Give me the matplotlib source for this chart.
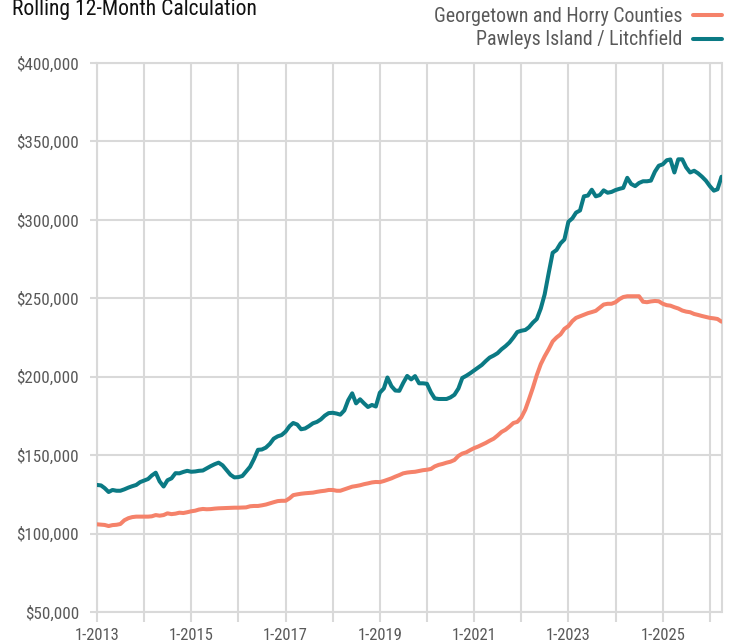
import matplotlib
matplotlib.use("Agg")
import matplotlib.pyplot as plt
import matplotlib.font_manager as fm
from matplotlib.ticker import FuncFormatter
import pandas as pd

# ---------------- data ----------------
start_month = "2013-01-01"

pawleys = [
    131.0, 130.7, 129.0, 126.5, 127.8, 127.3, 127.3, 128.2, 129.3, 130.2, 131.0, 132.8,
    133.8, 134.8, 137.0, 138.8, 133.3, 130.0, 134.0, 135.2, 138.5, 138.4, 139.3, 140.0,
    139.4, 139.6, 140.0, 140.2, 141.6, 143.0, 144.2, 145.2, 143.5, 140.5, 137.5, 135.8,
    136.0, 136.7, 139.5, 142.6, 147.5, 153.4, 153.6, 154.8, 157.2, 160.5, 162.0, 162.8,
    165.0, 168.5, 170.5, 169.5, 166.5, 167.0, 168.5, 170.3, 171.2, 172.8, 175.2, 176.8,
    177.0, 176.5, 175.8, 178.5, 185.0, 189.4, 183.0, 185.6, 183.0, 180.7, 182.0, 181.0,
    189.8, 192.5, 199.5, 194.0, 191.2, 191.0, 196.0, 200.5, 198.3, 200.4, 195.8, 195.8,
    195.5, 190.0, 186.2, 185.8, 185.8, 185.8, 186.8, 188.5, 192.5, 199.2, 200.6, 202.2,
    204.0, 205.8, 207.5, 210.0, 212.2, 213.5, 215.0, 217.5, 219.5, 221.8, 225.0, 228.5,
    229.3, 229.8, 231.5, 234.5, 236.8, 243.5, 252.5, 266.0, 279.0, 280.8, 285.0, 287.5,
    298.8, 301.0, 304.6, 306.0, 315.0, 315.5, 319.2, 315.0, 315.8, 318.8, 317.3, 317.8,
    319.0, 319.8, 320.4, 326.8, 322.9, 321.5, 323.5, 324.6, 324.6, 325.0, 330.7, 334.5,
    335.4, 338.0, 338.5, 330.2, 338.6, 338.6, 333.5, 330.2, 331.3, 329.7, 327.5, 325.0,
    321.5, 318.6, 319.5, 327.5,
]

georgetown = [
    105.9, 105.7, 105.5, 104.8, 105.4, 105.6, 106.1, 108.5, 109.8, 110.5, 110.8, 110.8,
    110.8, 110.8, 111.0, 111.8, 111.4, 111.8, 112.9, 112.4, 112.7, 113.3, 113.1, 113.6,
    114.2, 114.6, 115.3, 115.7, 115.5, 115.6, 115.9, 116.1, 116.2, 116.3, 116.4, 116.5,
    116.5, 116.6, 116.7, 117.4, 117.6, 117.6, 118.0, 118.5, 119.3, 120.0, 120.7, 120.9,
    120.9, 122.5, 124.5, 125.0, 125.4, 125.7, 125.9, 126.1, 126.6, 127.0, 127.3, 127.8,
    127.8, 127.3, 127.3, 128.2, 129.0, 129.9, 130.3, 130.8, 131.5, 132.0, 132.6, 132.9,
    132.8, 133.5, 134.3, 135.2, 136.3, 137.3, 138.4, 138.9, 139.2, 139.4, 139.9, 140.4,
    140.7, 141.2, 142.8, 143.8, 144.4, 145.2, 145.8, 146.9, 149.5, 151.0, 151.8, 153.2,
    154.5, 155.5, 156.6, 157.8, 159.2, 160.5, 162.5, 164.8, 166.2, 168.2, 170.5, 171.2,
    174.0, 179.0, 185.5, 193.0, 201.0, 208.0, 213.0, 217.5, 222.5, 225.0, 227.0, 230.5,
    232.3, 235.5, 237.5, 238.5, 239.4, 240.5, 241.2, 242.0, 244.0, 246.0, 246.5, 246.5,
    247.5, 249.5, 250.8, 251.3, 251.3, 251.3, 251.3, 247.8, 247.5, 248.0, 248.3, 248.1,
    246.5, 245.6, 245.3, 244.3, 243.5, 242.2, 241.5, 241.1, 240.0, 239.4, 238.7, 238.1,
    237.5, 237.2, 236.8, 235.1,
]

series_labels = ["Georgetown and Horry Counties", "Pawleys Island / Litchfield"]
title_text = "Rolling 12-Month Calculation"
y_ticks = [50000, 100000, 150000, 200000, 250000, 300000, 350000, 400000]
x_tick_years = list(range(2013, 2027))
x_label_years = [2013, 2015, 2017, 2019, 2021, 2023, 2025]

# ---------------- style ----------------
names = {f.name for f in fm.fontManager.ttflist}
family = "Liberation Sans"
for cand in ["Roboto Condensed", "Liberation Sans Narrow", "Open Sans Condensed"]:
    if cand in names:
        family = cand
        break
plt.rcParams["font.family"] = [family, "DejaVu Sans"]

ORANGE = "#f5826a"
TEAL = "#0b7a84"
GRID = "#d9d9d9"
TXT = "#595959"

dates = pd.date_range(start_month, periods=len(pawleys), freq="MS")

fig = plt.figure(figsize=(7.29, 6.44), dpi=100)
ax = fig.add_axes([97 / 729, 32 / 644, (721.5 - 97) / 729, (612 - 63) / 644])

l1, = ax.plot(dates, [v * 1000 for v in georgetown], color=ORANGE, lw=2.9,
              solid_joinstyle="round", solid_capstyle="round", label=series_labels[0], zorder=3)
l2, = ax.plot(dates, [v * 1000 for v in pawleys], color=TEAL, lw=2.9,
              solid_joinstyle="round", solid_capstyle="round", label=series_labels[1], zorder=4)

ax.set_xlim(dates[0], dates[-1])
ax.set_ylim(y_ticks[0], y_ticks[-1])
ax.set_yticks(y_ticks)
ax.yaxis.set_major_formatter(FuncFormatter(lambda v, p: f"${v:,.0f}"))

xt = [pd.Timestamp(f"{y}-01-01") for y in x_tick_years]
ax.set_xticks(xt)
ax.set_xticklabels([f"1-{y}" if y in x_label_years else "" for y in x_tick_years])

ax.grid(True, color=GRID, lw=1.5, zorder=0)
ax.set_axisbelow(True)
for s in ax.spines.values():
    s.set_color(GRID)
    s.set_linewidth(1.5)
ax.tick_params(axis="y", length=5, width=1.5, color=GRID, pad=8, labelsize=12.3, labelcolor=TXT)
ax.tick_params(axis="x", length=7, width=1.5, color=GRID, pad=4.5, labelsize=12, labelcolor=TXT)

fig.text(12 / 729, 1 - 15 / 644, title_text, fontsize=15.6, color="#111111",
         ha="left", va="baseline")

leg = fig.legend(handles=[l1, l2], labels=series_labels, loc="upper right",
                 bbox_to_anchor=(1 - 7 / 729, 1 - 7 / 644), frameon=False, markerfirst=False,
                 fontsize=14.3, handlelength=1.45, handletextpad=0.55, labelspacing=0.2,
                 borderaxespad=0, borderpad=0, labelcolor=TXT)

fig.savefig("out.png", dpi=100)
